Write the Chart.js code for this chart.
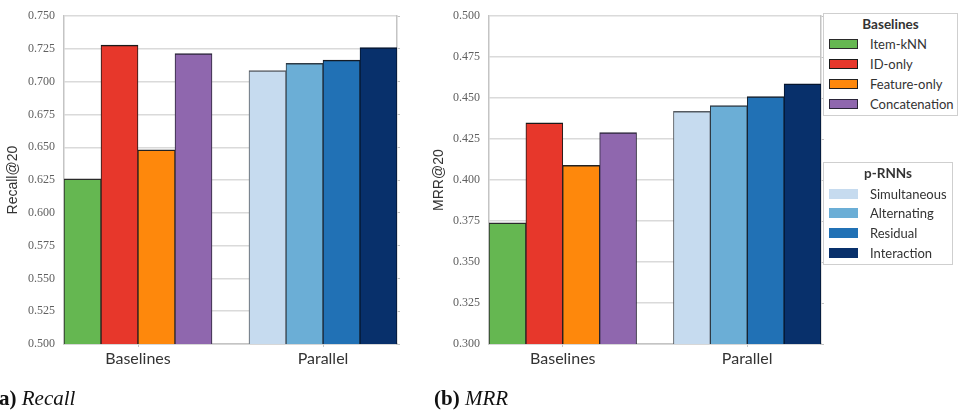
<!DOCTYPE html>
<html>
<head>
<meta charset="utf-8">
<script src="https://cdn.jsdelivr.net/npm/chart.js@4/dist/chart.umd.min.js"></script>
<style>
  html, body { margin: 0; padding: 0; background: #fff; }
  #wrap { position: relative; width: 960px; height: 416px; overflow: hidden; }
  canvas { position: absolute; top: 0; }
  .legend { position: absolute; border: 1px solid #cfcfcf; background: #fff; font-family: Lato, sans-serif; color: #333; box-sizing: border-box; }
  .legend .ttl { position: absolute; left: 0; right: 0; text-align: center; font-weight: bold; font-size: 13.5px; }
  .legend .it { position: absolute; left: 0; font-size: 13px; white-space: nowrap; }
  .legend .sw { position: absolute; box-sizing: border-box; }
  .legend .lb { position: absolute; transform: translateY(-50%); }
  .cap { position: absolute; font-family: "Liberation Serif", serif; font-size: 21px; color: #111; white-space: nowrap; }
  .cap b { font-weight: bold; }
  .cap i { font-style: italic; }
</style>
</head>
<body>
<div id="wrap">
  <canvas id="cA" width="410" height="416" style="left:0px;width:410px;height:416px"></canvas>
  <canvas id="cB" width="420" height="416" style="left:420px;width:420px;height:416px"></canvas>
  <div id="leg1" class="legend" style="left:823px;top:13px;width:135px;height:103px"></div>
  <div id="leg2" class="legend" style="left:823px;top:162px;width:130px;height:103px"></div>
  <div class="cap" style="left:-8px;top:386px"><b>(a)</b> <i>Recall</i></div>
  <div class="cap" style="left:434px;top:386px"><b>(b)</b> <i>MRR</i></div>
</div>
<script>
// ---- data ----
const groups = ['Baselines', 'Parallel'];
const baselineTitle = 'Baselines';
const prnnTitle = 'p-RNNs';
const baselineNames = ['Item-kNN', 'ID-only', 'Feature-only', 'Concatenation'];
const prnnNames = ['Simultaneous', 'Alternating', 'Residual', 'Interaction'];
const recallBaselines = [0.626, 0.728, 0.648, 0.7215];
const recallPrnn = [0.7085, 0.714, 0.7165, 0.726];
const mrrBaselines = [0.374, 0.435, 0.409, 0.429];
const mrrPrnn = [0.442, 0.4455, 0.451, 0.4587];
const recallRange = [0.500, 0.750];
const mrrRange = [0.300, 0.500];
const tickStep = 0.025;
const recallTitle = 'Recall@20';
const mrrTitle = 'MRR@20';

// ---- styles ----
const baselineColors = ['#65b751', '#e7372b', '#fe880c', '#8f67ae'];
const baselineBorders = ['#2a2a2a', '#1a1a1a', '#222222', '#2a2438'];
const prnnColors = ['#c6dbef', '#6baed6', '#2171b5', '#08306b'];
const prnnBorders = ['#555a60', '#2e3a44', '#141c26', '#05152e'];

function makeChart(id, base, prnn, range, title, yWidth, rWidth, titlePad) {
  const n = base.length + 1 + prnn.length;
  const labels = [...baselineNames, '', ...prnnNames];
  const data = [...base, null, ...prnn];
  const bg = [...baselineColors, 'rgba(0,0,0,0)', ...prnnColors];
  const bc = [...baselineBorders, 'rgba(0,0,0,0)', ...prnnBorders];
  const groupPos = [(base.length - 1) / 2, base.length + 1 + (prnn.length - 1) / 2];
  const gridColor = '#dadada';
  return new Chart(document.getElementById(id), {
    type: 'bar',
    data: { labels, datasets: [{ data, backgroundColor: bg, borderColor: bc,
      borderWidth: { top: 1.5, left: 1, right: 1, bottom: 0 }, borderSkipped: 'start',
      barPercentage: 1, categoryPercentage: 1 }] },
    options: {
      responsive: false, animation: false, devicePixelRatio: 1,
      layout: { padding: { top: 13, bottom: 42, left: 0, right: 0 } },
      plugins: { legend: { display: false }, tooltip: { enabled: false } },
      scales: {
        x: { type: 'category', display: false, offset: true, grid: { display: false } },
        xl: {
          type: 'linear', position: 'bottom', min: -0.5, max: n - 0.5, offset: false,
          afterBuildTicks: (s) => { s.ticks = groupPos.map(v => ({ value: v })); },
          afterFit: (s) => { s.height = 30; },
          ticks: { autoSkip: false, maxRotation: 0, padding: 2, color: '#333',
            font: { family: 'Lato', size: 16 },
            callback: (v) => { const i = groupPos.indexOf(v); return i >= 0 ? groups[i] : ''; } },
          grid: { offset: false, drawOnChartArea: false, drawTicks: true, tickLength: 3, color: '#c4c4c4', lineWidth: 1 },
          border: { display: true, color: '#c4c4c4', width: 1.5 }
        },
        y: {
          type: 'linear', position: 'left', min: range[0], max: range[1],
          afterFit: (s) => { s.width = yWidth; },
          ticks: { stepSize: tickStep, padding: 9, color: '#606060',
            font: { family: '"Liberation Serif", serif', size: 12 },
            callback: (v) => Number(v).toFixed(3) },
          grid: { color: gridColor, lineWidth: 1.5, drawTicks: false },
          border: { display: true, color: '#c4c4c4', width: 1.5 },
          title: { display: true, text: title, color: '#333',
            font: { family: '"Liberation Sans", sans-serif', size: 14 }, padding: { top: titlePad, bottom: 0 } }
        },
        yr: {
          type: 'linear', position: 'right', min: range[0], max: range[1],
          afterFit: (s) => { s.width = rWidth; },
          ticks: { stepSize: tickStep, display: false },
          grid: { drawOnChartArea: false, drawTicks: true, tickLength: 3, color: '#c4c4c4', lineWidth: 1 },
          border: { display: true, color: '#c4c4c4', width: 1.5 }
        }
      }
    }
  });
}

makeChart('cA', recallBaselines, recallPrnn, recallRange, recallTitle, 64, 13, 4.6);
makeChart('cB', mrrBaselines, mrrPrnn, mrrRange, mrrTitle, 69, 19, 10.3);

// ---- HTML legends built from the same arrays ----
function buildLegend(el, ttl, names, colors, borders, titleY, ys) {
  let h = `<div class="ttl" style="top:${titleY - 9}px">${ttl}</div>`;
  names.forEach((nm, i) => {
    const y = ys[i];
    const b = borders ? `border:1px solid ${borders[i]};` : '';
    h += `<div class="sw" style="left:5px;top:${y - 5}px;width:29px;height:10px;background:${colors[i]};${b}"></div>`;
    h += `<div class="it lb" style="left:46px;top:${y}px">${nm}</div>`;
  });
  el.innerHTML = h;
}
buildLegend(document.getElementById('leg1'), baselineTitle, baselineNames, baselineColors, baselineBorders, 11, [29.5, 49.5, 69.5, 89.5]);
buildLegend(document.getElementById('leg2'), prnnTitle, prnnNames, prnnColors, null, 11, [30.5, 50, 69.5, 89.5]);
</script>
</body>
</html>
